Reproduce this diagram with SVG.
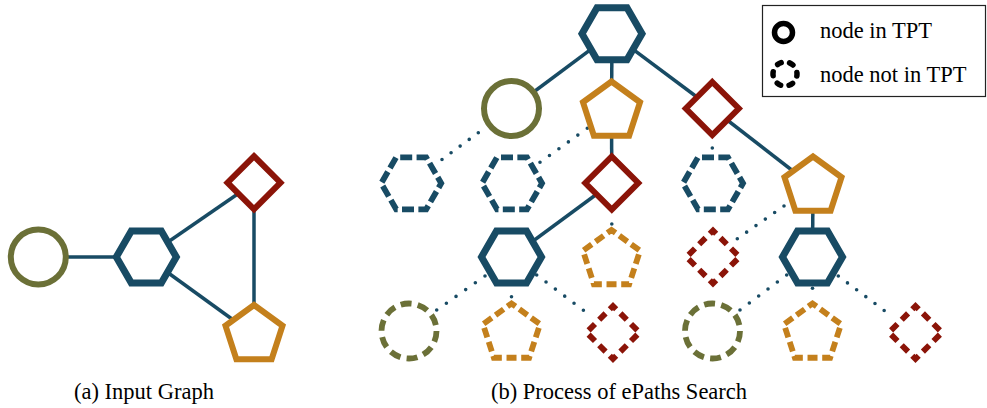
<svg xmlns="http://www.w3.org/2000/svg" xmlns:xlink="http://www.w3.org/1999/xlink" width="987" height="408" viewBox="0 0 987 408">
<style>
.bg{fill:#ffffff}
.blue{stroke:#184b64}
.olive{stroke:#6b7037}
.red{stroke:#8b1408}
.orange{stroke:#c4801c}
.solid{fill:#ffffff;stroke-width:6;stroke-linejoin:miter}
.solid.hexs{stroke-width:7}
.dash{fill:#ffffff;stroke-width:5.8;stroke-linejoin:miter}
.dhex{stroke-dasharray:12 4.37;stroke-dashoffset:12.37}
.dpent{stroke-dasharray:10 4.69;stroke-dashoffset:5}
.ddiam{stroke-dasharray:9 5.99;stroke-dashoffset:4.5}
.dcirc{stroke-dasharray:11 6.28}
.edge{stroke:#184b64;stroke-width:3.5;fill:none}
.dot{stroke:#184b64;stroke-width:3.6;stroke-linecap:round;fill:none}
.txt{font-family:"Liberation Serif","Times New Roman",serif;font-size:22.5px;fill:#000000}
</style>
<defs>
<path id="hex" d="M-15,-26 L15,-26 L30,0 L15,26 L-15,26 L-30,0 Z"/>
<path id="pent" d="M0,-30 L28.53,-9.27 L17.63,24.27 L-17.63,24.27 L-28.53,-9.27 Z"/>
<path id="diam" d="M0,-26.5 L26.5,0 L0,26.5 L-26.5,0 Z"/>
<circle id="circ" cx="0" cy="0" r="27.5"/>
</defs>
<rect class="bg" x="0" y="0" width="987" height="408"/>

<g id="connectors">
  <line class="edge" x1="38.3" y1="257" x2="146.3" y2="257"/>
  <line class="edge" x1="146.3" y1="257" x2="254" y2="182.7"/>
  <line class="edge" x1="146.3" y1="257" x2="254" y2="335"/>
  <line class="edge" x1="254" y1="182.7" x2="254" y2="335"/>
  <line class="edge" x1="612" y1="33.7" x2="511.5" y2="108.5"/>
  <line class="edge" x1="612" y1="33.7" x2="611.5" y2="111.5"/>
  <line class="edge" x1="612" y1="33.7" x2="712.3" y2="108.5"/>
  <line class="edge" x1="611.5" y1="111.5" x2="611.8" y2="183"/>
  <line class="edge" x1="712.3" y1="108.5" x2="813" y2="186.5"/>
  <line class="edge" x1="611.8" y1="183" x2="511.5" y2="257"/>
  <line class="edge" x1="813" y1="186.5" x2="812.5" y2="257"/>
  <line class="dot" x1="478.3" y1="132.7" x2="442" y2="159.5" stroke-dasharray="0 11.28"/>
  <line class="dot" x1="587.3" y1="128.3" x2="540" y2="162.3" stroke-dasharray="0 11.65"/>
  <line class="dot" x1="712.3" y1="148" x2="712.3" y2="149" stroke-dasharray="0 20"/>
  <line class="dot" x1="611.8" y1="224" x2="611.8" y2="225" stroke-dasharray="0 20"/>
  <line class="dot" x1="784" y1="206" x2="737.3" y2="238.7" stroke-dasharray="0 11.4"/>
  <line class="dot" x1="485" y1="276" x2="436.7" y2="310" stroke-dasharray="0 11.81"/>
  <line class="dot" x1="511.5" y1="296.7" x2="511.5" y2="297.7" stroke-dasharray="0 20"/>
  <line class="dot" x1="536.7" y1="275" x2="592.7" y2="317.3" stroke-dasharray="0 11.7"/>
  <line class="dot" x1="786.7" y1="275" x2="740" y2="310" stroke-dasharray="0 11.67"/>
  <line class="dot" x1="812.5" y1="288.3" x2="812.5" y2="298.3" stroke-dasharray="0 10"/>
  <line class="dot" x1="838.3" y1="276" x2="893.3" y2="317.3" stroke-dasharray="0 11.47"/>
</g>

<g id="a-circle"><use href="#circ" xlink:href="#circ" class="solid olive" transform="translate(38.3,257)"/></g>
<g id="a-hexagon"><use href="#hex" xlink:href="#hex" class="solid hexs blue" transform="translate(146.3,257)"/></g>
<g id="a-diamond"><use href="#diam" xlink:href="#diam" class="solid red" transform="translate(254,182.7)"/></g>
<g id="a-pentagon"><use href="#pent" xlink:href="#pent" class="solid orange" transform="translate(254,335)"/></g>

<g id="b-root"><use href="#hex" xlink:href="#hex" class="solid hexs blue" transform="translate(612,33.7)"/></g>
<g id="b-l1-circle"><use href="#circ" xlink:href="#circ" class="solid olive" transform="translate(511.5,108.5)"/></g>
<g id="b-l1-pentagon"><use href="#pent" xlink:href="#pent" class="solid orange" transform="translate(611.5,111.5)"/></g>
<g id="b-l1-diamond"><use href="#diam" xlink:href="#diam" class="solid red" transform="translate(712.3,108.5)"/></g>
<g id="b-l2-hex-a"><use href="#hex" xlink:href="#hex" class="dash dhex blue" transform="translate(411.2,183.3)"/></g>
<g id="b-l2-hex-b"><use href="#hex" xlink:href="#hex" class="dash dhex blue" transform="translate(512,183.3)"/></g>
<g id="b-l2-diamond"><use href="#diam" xlink:href="#diam" class="solid red" transform="translate(611.8,183)"/></g>
<g id="b-l2-hex-c"><use href="#hex" xlink:href="#hex" class="dash dhex blue" transform="translate(713,183.3)"/></g>
<g id="b-l2-pentagon"><use href="#pent" xlink:href="#pent" class="solid orange" transform="translate(813,186.5)"/></g>
<g id="b-l3-hex-a"><use href="#hex" xlink:href="#hex" class="solid hexs blue" transform="translate(511.5,257)"/></g>
<g id="b-l3-pentagon"><use href="#pent" xlink:href="#pent" class="dash dpent orange" transform="translate(611.5,260)"/></g>
<g id="b-l3-diamond"><use href="#diam" xlink:href="#diam" class="dash ddiam red" transform="translate(713,257)"/></g>
<g id="b-l3-hex-b"><use href="#hex" xlink:href="#hex" class="solid hexs blue" transform="translate(812.5,257)"/></g>
<g id="b-l4-circle-a"><use href="#circ" xlink:href="#circ" class="dash dcirc olive" transform="translate(409,331)"/></g>
<g id="b-l4-pentagon-a"><use href="#pent" xlink:href="#pent" class="dash dpent orange" transform="translate(511.5,333.5)"/></g>
<g id="b-l4-diamond-a"><use href="#diam" xlink:href="#diam" class="dash ddiam red" transform="translate(613,332.5)"/></g>
<g id="b-l4-circle-b"><use href="#circ" xlink:href="#circ" class="dash dcirc olive" transform="translate(712.5,331)"/></g>
<g id="b-l4-pentagon-b"><use href="#pent" xlink:href="#pent" class="dash dpent orange" transform="translate(812.5,333.5)"/></g>
<g id="b-l4-diamond-b"><use href="#diam" xlink:href="#diam" class="dash ddiam red" transform="translate(915.5,332.5)"/></g>

<g id="legend">
  <rect x="762.5" y="5.5" width="223" height="91" fill="#ffffff" stroke="#222222" stroke-width="1.2"/>
  <circle cx="783.5" cy="32.5" r="9" fill="none" stroke="#000000" stroke-width="5.5"/>
  <text class="txt" x="820" y="38">node in TPT</text>
  <circle cx="785" cy="74" r="12" fill="none" stroke="#000000" stroke-width="5.5" stroke-linecap="round" stroke-dasharray="4 8.57" stroke-dashoffset="2"/>
  <text class="txt" x="820" y="82">node not in TPT</text>
</g>

<g id="captions">
  <text class="txt" x="144" y="399" text-anchor="middle">(a) Input Graph</text>
  <text class="txt" x="619" y="399" text-anchor="middle">(b) Process of ePaths Search</text>
</g>
</svg>
